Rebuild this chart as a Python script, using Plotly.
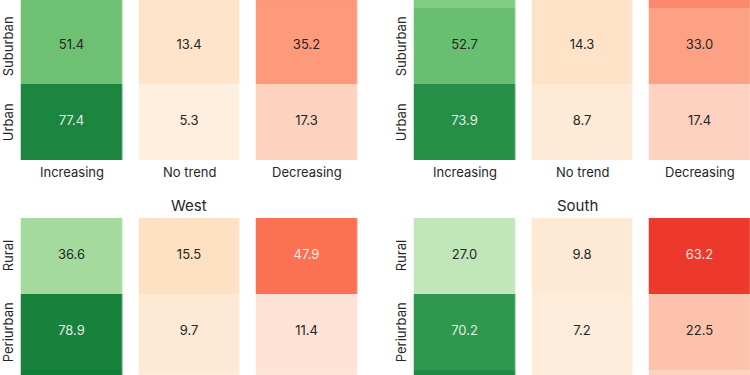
import plotly.graph_objects as go
from plotly.colors import sequential

# ---------------- data ----------------
trends = ["Increasing", "No trend", "Decreasing"]

# top panels (region titles are cropped out of view)
top_rows = ["Periurban", "Suburban", "Urban"]
topleft_increasing = [51.2, 51.4, 77.4]
topleft_no_trend = [13.5, 13.4, 5.3]
topleft_decreasing = [35.3, 35.2, 17.3]
topright_increasing = [46.0, 52.7, 73.9]
topright_no_trend = [14.0, 14.3, 8.7]
topright_decreasing = [40.0, 33.0, 17.4]

# bottom panels
bottom_rows = ["Rural", "Periurban", "Suburban"]
west_increasing = [36.6, 78.9, 81.5]
west_no_trend = [15.5, 9.7, 8.0]
west_decreasing = [47.9, 11.4, 10.5]
south_increasing = [27.0, 70.2, 76.0]
south_no_trend = [9.8, 7.2, 7.0]
south_decreasing = [63.2, 22.5, 17.0]

panel_titles = ["", "", "West", "South"]

# ---------------- style / geometry ----------------
W, H = 750, 375
FONT = "Inter"
TXT = "#262626"
scales = {"Increasing": sequential.Greens, "No trend": sequential.Oranges, "Decreasing": sequential.Reds}
light_threshold = {"Increasing": 60, "No trend": 101, "Decreasing": 45}
pitch = 117.5
gap = 16.5
row_h = 76.0

panels = [
    dict(rows=top_rows, vals=[topleft_increasing, topleft_no_trend, topleft_decreasing],
         xpx=(12.75, 365.25), ypx=(0, 160), top=True),
    dict(rows=top_rows, vals=[topright_increasing, topright_no_trend, topright_decreasing],
         xpx=(405.75, 750), ypx=(0, 160), top=True),
    dict(rows=bottom_rows, vals=[west_increasing, west_no_trend, west_decreasing],
         xpx=(12.75, 365.25), ypx=(218, 375), top=False),
    dict(rows=bottom_rows, vals=[south_increasing, south_no_trend, south_decreasing],
         xpx=(405.75, 750), ypx=(218, 375), top=False),
]

fig = go.Figure()
layout = {}
annotations = []
for i, p in enumerate(panels):
    k = "" if i == 0 else str(i + 1)
    xref, yref = "x" + k, "y" + k
    x0, x1 = p["xpx"]
    y0, y1 = p["ypx"]
    xr = [-0.5, -0.5 + (x1 - x0) / pitch]
    if p["top"]:
        yr = [2.5, 2.5 - (y1 - y0) / row_h]
    else:
        yr = [-0.5 + (y1 - y0) / row_h, -0.5]
    lo, hi = min(yr), max(yr)
    visible = [lo <= r <= hi for r in range(len(p["rows"]))]
    for j, (trend, vals) in enumerate(zip(trends, p["vals"])):
        z = [[v if c == j else None for c in range(len(trends))] for v in vals]
        fig.add_trace(go.Heatmap(
            x=trends, y=p["rows"], z=z,
            colorscale=scales[trend], zmin=0, zmax=100, showscale=False,
            xgap=gap, ygap=0, xaxis=xref, yaxis=yref, hoverinfo="skip"))
        ty = [r for r, vis in zip(p["rows"], visible) if vis]
        tv = [v for v, vis in zip(vals, visible) if vis]
        colors = ["rgba(255,255,255,0.88)" if v >= light_threshold[trend] else TXT for v in tv]
        fig.add_trace(go.Scatter(
            x=[trend] * len(tv), y=ty, mode="text",
            text=[f"{v:.1f}" for v in tv],
            textfont=dict(family=FONT, size=13, color=colors),
            xaxis=xref, yaxis=yref, hoverinfo="skip", showlegend=False))
    layout["xaxis" + k] = dict(
        domain=[x0 / W, x1 / W], range=xr, type="category",
        categoryorder="array", categoryarray=trends, anchor=yref,
        showgrid=False, zeroline=False, showline=False, ticks="",
        showticklabels=False, automargin=False, fixedrange=True)
    layout["yaxis" + k] = dict(
        domain=[1 - y1 / H, 1 - y0 / H], range=yr, type="category",
        categoryorder="array", categoryarray=p["rows"], anchor=xref,
        showgrid=False, zeroline=False, showline=False, ticks="",
        showticklabels=False, automargin=False, fixedrange=True)
    # row labels (rotated), only for rows whose centre is in view
    for r, vis in zip(p["rows"], visible):
        if vis:
            annotations.append(dict(
                text=r, x=(x0 - 4.5) / W, y=r, xref="paper", yref=yref,
                xanchor="center", yanchor="middle", textangle=-90, showarrow=False,
                font=dict(family=FONT, size=13, color=TXT)))
    # column labels under top panels
    if p["top"]:
        for t in trends:
            annotations.append(dict(
                text=t, x=t, y=1 - (y1 + 12) / H, xref=xref, yref="paper",
                xanchor="center", yanchor="middle", showarrow=False,
                font=dict(family=FONT, size=13, color=TXT)))
    if panel_titles[i]:
        cx = (x0 + gap / 2 + min(x1, x0 + 3 * pitch) - gap / 2) / 2
        annotations.append(dict(
            text=panel_titles[i], x=cx / W, y=1 - (y0 - 13) / H,
            xref="paper", yref="paper", xanchor="center", yanchor="middle",
            showarrow=False, font=dict(family=FONT, size=15, color=TXT)))

fig.update_layout(
    width=W, height=H, margin=dict(l=0, r=0, t=0, b=0),
    paper_bgcolor="white", plot_bgcolor="white", hovermode=False,
    showlegend=False, annotations=annotations, **layout)

fig.write_html("out.html", config={"displayModeBar": False, "staticPlot": True},
               post_script="document.body.style.margin='0';document.body.style.overflow='hidden';")
